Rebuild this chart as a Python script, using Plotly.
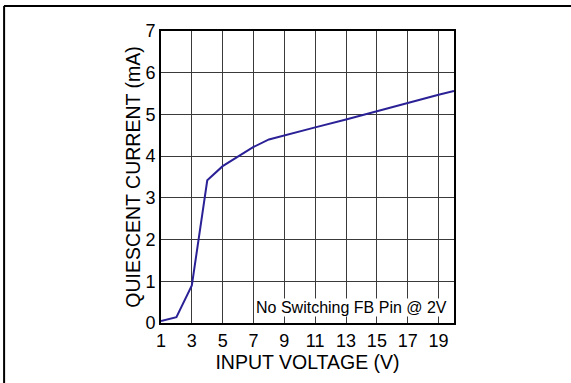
import plotly.graph_objects as go

# Quiescent current vs. input voltage
input_voltage = [1, 2, 3, 4, 5, 6, 7, 8, 9, 11, 13, 15, 17, 19, 20]
quiescent_ma = [0.05, 0.14, 0.9, 3.42, 3.76, 4.0, 4.22, 4.4, 4.5, 4.69, 4.88, 5.08, 5.28, 5.47, 5.56]

x_ticks = [1, 3, 5, 7, 9, 11, 13, 15, 17, 19]
y_ticks = [0, 1, 2, 3, 4, 5, 6, 7]
note_text = "No Switching FB Pin @ 2V"

FONT = "Liberation Sans, Arial, sans-serif"

fig = go.Figure()
fig.add_trace(go.Scatter(
    x=input_voltage, y=quiescent_ma, mode="lines",
    line=dict(color="#2b2196", width=2),
    hoverinfo="skip", showlegend=False,
))

axis_common = dict(
    showgrid=True, gridcolor="#3a3a3a", gridwidth=1.3,
    showline=True, linecolor="black", linewidth=2, mirror=True,
    zeroline=False, ticks="", tickfont=dict(family=FONT, size=18, color="black"),
)

fig.update_xaxes(
    range=[1, 20], tickvals=x_ticks, ticklabelstandoff=0,
    title=dict(text="INPUT VOLTAGE (V)", font=dict(family=FONT, size=19.5, color="black"), standoff=4),
    **axis_common,
)
fig.update_yaxes(
    range=[0, 7], tickvals=y_ticks, ticklabelstandoff=0,
    title=dict(text="QUIESCENT CURRENT (mA)", font=dict(family=FONT, size=19.5, color="black"), standoff=0),
    **axis_common,
)

fig.add_annotation(
    x=19.6, y=0.37, xref="x", yref="y", text=note_text, showarrow=False,
    xanchor="right", yanchor="middle", bgcolor="white", borderpad=0,
    font=dict(family=FONT, size=16, color="black"),
)

# Frame lines along the top and left edges of the page
fig.add_shape(type="line", xref="paper", yref="paper",
              x0=-0.536, x1=1.43, y0=1.0856, y1=1.0856,
              line=dict(color="black", width=2))
fig.add_shape(type="line", xref="paper", yref="paper",
              x0=-0.5355, x1=-0.5355, y0=1.0856, y1=-0.3,
              line=dict(color="black", width=2))

fig.update_layout(
    width=571, height=383,
    margin=dict(l=161, r=117, t=31, b=60),
    paper_bgcolor="white", plot_bgcolor="white",
    font=dict(family=FONT, color="black"),
)

fig.write_html("out.html")
